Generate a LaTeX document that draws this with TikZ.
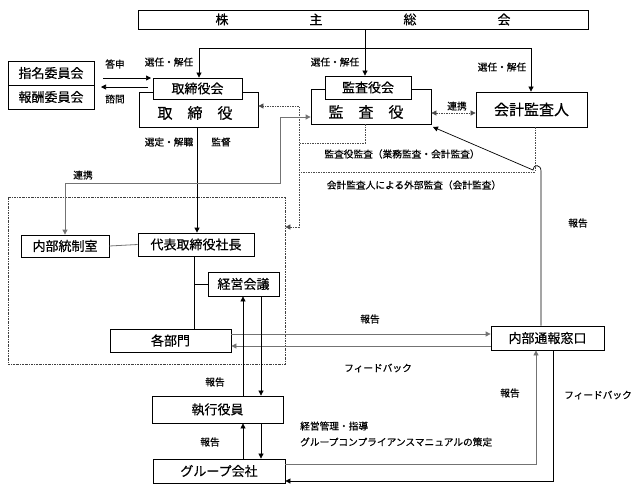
\documentclass[tikz,border=0pt]{standalone}
\usepackage{fontspec}
\newfontfamily\jp[FakeBold=0.4]{Noto Sans CJK JP}
\usetikzlibrary{arrows.meta,calc}
\begin{document}
\begin{tikzpicture}[x=1pt,y=-1pt,
 box/.style={draw, line width=0.8pt, fill=white, inner sep=0pt, font=\jp\fontsize{13}{13}\selectfont},
 big/.style={font=\jp\fontsize{15}{15}\selectfont},
 lbl/.style={inner sep=0pt, font=\jp\fontsize{9.7}{10}\selectfont},
 arr/.style={-{Triangle[length=5pt,width=5pt]}},
 both/.style={{Triangle[length=5pt,width=5pt]}-{Triangle[length=5pt,width=5pt]}},
 ln/.style={line width=0.7pt},
 gln/.style={line width=0.8pt, black!55},
 dsh/.style={line width=0.7pt, black!70, dash pattern=on 1.5pt off 1pt},
 frm/.style={draw, line width=0.7pt, black!75, dash pattern=on 2pt off 1pt on 0.6pt off 1pt, inner sep=0pt},
]
\useasboundingbox (0,0) rectangle (640,496);

% column / row helpers
\coordinate (c194) at (194,0);
\coordinate (c197) at (197,0);
\coordinate (c243) at (243,0);
\coordinate (c261) at (261,0);
\coordinate (c280) at (280,0);
\coordinate (dx) at (299,0);
\coordinate (c365) at (365,0);
\coordinate (c535) at (535,0);
\coordinate (c536) at (536,0);
\coordinate (c541) at (541,0);
\coordinate (c553) at (553,0);
\coordinate (r106) at (0,106);
\coordinate (r113) at (0,113);
\coordinate (r117) at (0,117);
\coordinate (r143) at (0,143);
\coordinate (r172) at (0,172);
\coordinate (r183) at (0,183);
\coordinate (r227) at (0,227);
\coordinate (r334) at (0,334);
\coordinate (r346) at (0,346);
\coordinate (r464) at (0,464);
\coordinate (r481) at (0,481);

% frame
\node[frm, minimum width=277, minimum height=167] (frame) at (146.5,280.5) {};

% boxes
\node[box, minimum width=450, minimum height=19] (sh) at (363,19.5) {株\hspace{81pt}主\hspace{81pt}総\hspace{81pt}会};
\node[box, minimum width=86, minimum height=24] (nom) at (51,73) {指名委員会};
\node[box, minimum width=86, minimum height=24] (rem) at (51,97) {報酬委員会};
\node[box, minimum width=119, minimum height=35] (bd) at (198.5,109.5) {};
\node[big, inner sep=0pt] (bdt) at (195,113) {取\hspace{1em}締\hspace{1em}役};
\node[box, minimum width=89, minimum height=21] (bdm) at (197.5,88.5) {取締役会};
\node[box, minimum width=120, minimum height=35] (ka) at (371,106.5) {};
\node[big, inner sep=0pt] (kat) at (366,112) {監\hspace{1em}査\hspace{1em}役};
\node[box, minimum width=86, minimum height=23] (kab) at (368,87.5) {監査役会};
\node[box, big, minimum width=111, minimum height=35] (acc) at (531.5,109.5) {会計監査人};
\node[box, minimum width=88, minimum height=22] (ic) at (65,246) {内部統制室};
\node[box, minimum width=116, minimum height=23] (ceo) at (196,244.5) {代表取締役社長};
\node[box, minimum width=71, minimum height=24] (mc) at (243.5,284) {経営会議};
\node[box, minimum width=121, minimum height=23] (dept) at (170.5,340.5) {各部門};
\node[box, minimum width=113, minimum height=24] (hot) at (547.5,338) {内部通報窓口};
\node[box, minimum width=131, minimum height=27] (exe) at (217.5,409.5) {執行役員};
\node[box, minimum width=132, minimum height=24] (grp) at (219,471) {グループ会社};

% shareholders meeting connectors
\coordinate (tL) at (199,48);
\coordinate (tR) at (531,48);
\draw[ln] (tL) -- (tR);
\draw[ln,arr] (tL) -- (tL |- bdm.north);
\draw[ln,arr] (tR) -- (tR |- acc.north);
\draw[ln,arr] (sh.south -| c365) -- (kab.north -| c365);

% committee arrows
\coordinate (d1) at (103,78);
\coordinate (d2) at (151,78);
\coordinate (s1) at (148,87);
\coordinate (s2) at (101,87);
\draw[ln,arr] (d1) -- (d2);
\draw[ln,arr] (s1) -- (s2);

% board -> president
\draw[line width=1pt,arr] (bd.south -| c197) -- (ceo.north -| c197);

% auditors cooperation
\draw[dsh,both] (ka.east |- r113) -- (acc.west |- r113);

% dashed audit lines
\draw[dsh] (acc.south -| c535) |- (dx |- r172);
\draw[dsh] (ka.south -| c365) |- (dx |- r143);
\draw[dsh,both] (frame.east |- r227) -- (dx |- r227) -- (dx |- r106) -- (bd.east |- r106);

% hotline report to auditors (with hop)
\coordinate (hopB) at (541,171);
\coordinate (hopA) at (533,170);
\coordinate (kaC) at (433,127);
\draw[ln,arr] (hot.north -| c541) -- (hopB) .. controls (541,164) and (533,164) .. (hopA) -- (kaC);

% gray cooperation line to internal control
\draw[gln,both] (ka.west |- r117) -- (c280 |- r117) -- (c280 |- r183) -- (ic.north |- r183) -- (ic.north);

% inside organisation
\draw[gln] (ic.east) -- (ceo.west);
\draw[ln] (ceo.south -| c194) -- (dept.north -| c194);
\draw[ln] (c194 |- mc.west) -- (mc.west);
\draw[gln,arr] (dept.east |- r334) -- (hot.west |- r334);
\draw[gln,arr] (hot.west |- r346) -- (dept.east |- r346);
\draw[ln,arr] (exe.north -| c243) -- (mc.south -| c243);
\draw[ln,arr] (mc.south -| c261) -- (exe.north -| c261);
\draw[ln,arr] (grp.north -| c243) -- (exe.south -| c243);
\draw[ln,arr] (exe.south -| c261) -- (grp.north -| c261);
\draw[gln,arr] (grp.east |- r464) -| (hot.south -| c536);
\draw[ln,arr] (hot.south -| c553) |- (grp.east |- r481);

% labels
\node[lbl] (l1) at (169,62) {選任・解任};
\node[lbl] (l2) at (335,62) {選任・解任};
\node[lbl] (l3) at (502,67) {選任・解任};
\node[lbl] (l4) at (115,64) {答申};
\node[lbl] (l5) at (115,99) {諮問};
\node[lbl] (l6) at (169,142) {選定・解職};
\node[lbl] (l7) at (221,142) {監督};
\node[lbl] (l8) at (457,106) {連携};
\node[lbl] (l9) at (402,154) {監査役監査（業務監査・会計監査）};
\node[lbl] (l10) at (414,185) {会計監査人による外部監査（会計監査）};
\node[lbl] (l11) at (83,175) {連携};
\node[lbl] (l12) at (578,223) {報告};
\node[lbl] (l13) at (370,319) {報告};
\node[lbl] (l14) at (378,368) {フィードバック};
\node[lbl] (l15) at (215,382) {報告};
\node[lbl] (l16) at (210,442) {報告};
\node[lbl, anchor=west] (l17) at (300,426) {経営管理・指導};
\node[lbl, anchor=west] (l18) at (300,442) {グループコンプライアンスマニュアルの策定};
\node[lbl] (l19) at (510,393) {報告};
\node[lbl] (l20) at (598,395) {フィードバック};
\end{tikzpicture}
\end{document}
